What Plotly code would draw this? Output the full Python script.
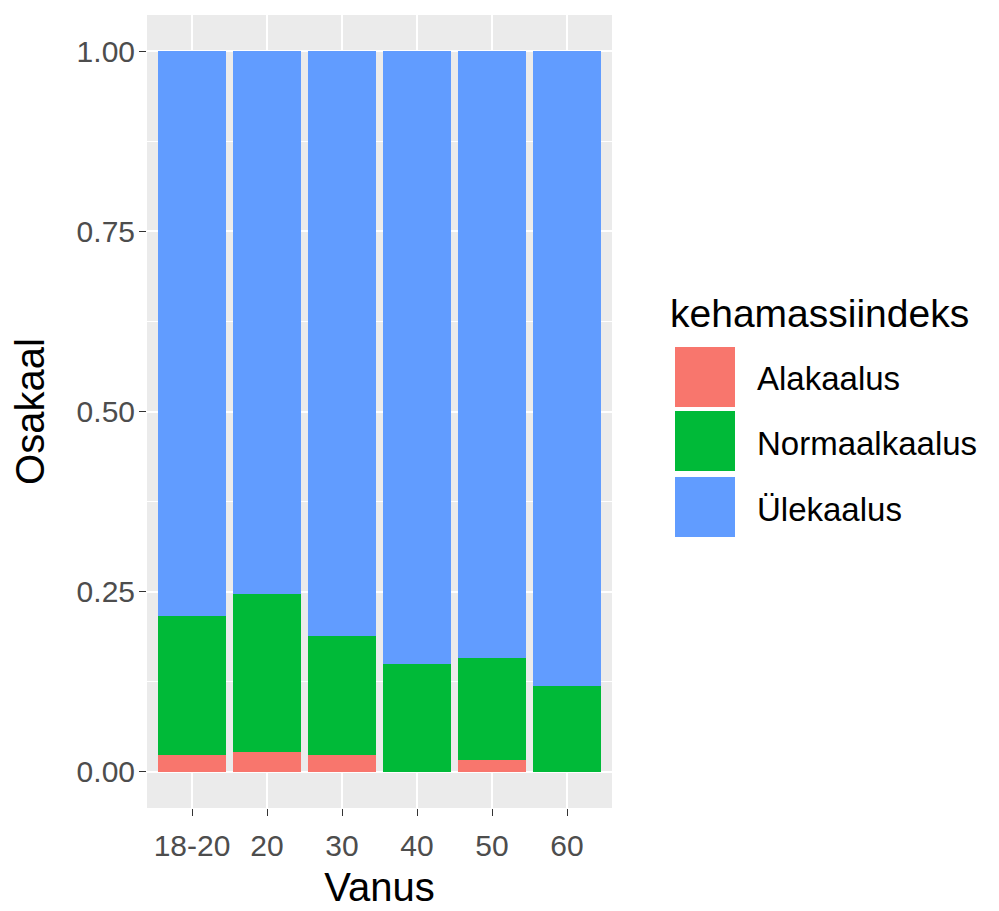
import plotly.graph_objects as go

# Data (proportions)
ages = ["18-20", "20", "30", "40", "50", "60"]
alakaalus = [0.023, 0.027, 0.023, 0.0, 0.016, 0.0]
normaalkaalus = [0.193, 0.220, 0.166, 0.150, 0.142, 0.119]
ulekaalus = [0.784, 0.753, 0.811, 0.850, 0.842, 0.881]
series_names = ["Alakaalus", "Normaalkaalus", "Ülekaalus"]
colors = ["#F8766D", "#00BA38", "#619CFF"]

W, H = 999, 911
OFF = 8  # page body margin
L, R, T, B = 147, 612, 15, 808  # panel edges in screen pixels
FONT = "Liberation Sans, Arial, sans-serif"

def px(x):
    return (x - L) / (R - L)

def py(y):
    return (B - y) / (B - T)

fig = go.Figure()
for name, vals, col in zip(series_names, [alakaalus, normaalkaalus, ulekaalus], colors):
    fig.add_trace(go.Bar(x=ages, y=vals, name=name, marker=dict(color=col, line=dict(width=0)),
                         width=0.9, showlegend=False))

fig.update_layout(
    width=W, height=H,
    margin=dict(l=L - OFF, r=W - (R - OFF), t=T - OFF, b=H - (B - OFF), pad=0),
    barmode="stack",
    paper_bgcolor="white",
    plot_bgcolor="#EBEBEB",
    font=dict(family=FONT),
    xaxis=dict(
        type="category", range=[-0.6, 5.6],
        showgrid=True, gridcolor="white", gridwidth=1.5,
        ticks="outside", ticklen=7, tickwidth=1.2, tickcolor="#333333",
        tickfont=dict(size=30, color="#4D4D4D", family=FONT),
        ticklabelstandoff=4,
        title=dict(text="Vanus", font=dict(size=40, color="black", family=FONT), standoff=11),
        zeroline=False,
    ),
    yaxis=dict(
        range=[-0.05, 1.05], tick0=0, dtick=0.25, tickformat=".2f",
        showgrid=True, gridcolor="white", gridwidth=1.5,
        minor=dict(dtick=0.125, tick0=0, showgrid=True, gridcolor="white", gridwidth=0.7, ticks=""),
        ticks="outside", ticklen=7, tickwidth=1.2, tickcolor="#333333",
        tickfont=dict(size=30, color="#4D4D4D", family=FONT),
        ticklabelstandoff=-2,
        title=dict(text="Osakaal", font=dict(size=40, color="black", family=FONT), standoff=30),
        zeroline=False,
    ),
)

# Legend drawn as shapes + text (ggplot-style large keys)
fig.add_annotation(x=px(668), y=py(313), xref="paper", yref="paper", text="kehamassiindeks",
                   showarrow=False, xanchor="left", yanchor="middle",
                   font=dict(size=39, color="black", family=FONT))
key_tops = [347, 411, 477]
for name, col, top in zip(series_names, colors, key_tops):
    fig.add_shape(type="rect", xref="paper", yref="paper",
                  x0=px(675), x1=px(735), y0=py(top + 60), y1=py(top),
                  fillcolor=col, line=dict(width=0), layer="above")
    fig.add_annotation(x=px(755), y=py(top + 32), xref="paper", yref="paper", text=name,
                       showarrow=False, xanchor="left", yanchor="middle",
                       font=dict(size=33, color="black", family=FONT))

fig.write_html("out.html")
